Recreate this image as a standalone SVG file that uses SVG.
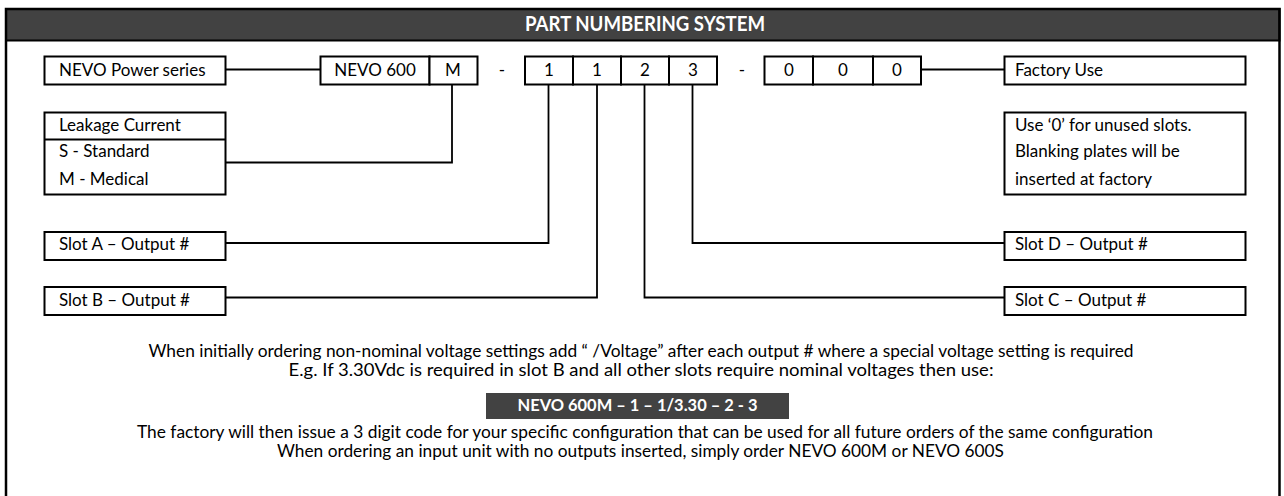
<svg xmlns="http://www.w3.org/2000/svg" width="1284" height="496" viewBox="0 0 1284 496">
<style>
  text { font-family: Lato, "Liberation Sans", sans-serif; font-size: 17px; fill: #000; }
  .c { text-anchor: middle; }
  .b { fill: #fff; stroke: #000; stroke-width: 2; }
  .ln { fill: none; stroke: #000; stroke-width: 1.8; }
  .w { fill: #fff; font-weight: bold; }
  .dark { fill: #424242; }
  .title { font-size: 20px; }
</style>
<rect width="1284" height="496" fill="#fff"/>
<g id="frame">
  <rect class="dark" x="6" y="9" width="1273.5" height="31.5" stroke="#000" stroke-width="2"/>
  <path d="M6,500 V9 H1279.5 V500" fill="none" stroke="#000" stroke-width="2.5"/>
  <text class="c w title" x="645" y="31" textLength="240" lengthAdjust="spacingAndGlyphs">PART NUMBERING SYSTEM</text>
</g>
<g id="connectors">
  <path class="ln" d="M225,69.5 H320"/>
  <path class="ln" d="M225,162.5 H452 V84"/>
  <path class="ln" d="M225,243 H548.5 V84"/>
  <path class="ln" d="M225,297.5 H597 V84"/>
  <path class="ln" d="M1004,297.5 H644.5 V84"/>
  <path class="ln" d="M1004,243 H692.5 V84"/>
  <path class="ln" d="M921,69.5 H1004"/>
</g>
<g id="nevo-power-series">
  <rect class="b" x="44.5" y="56.5" width="181" height="28"/>
  <text x="59" y="76">NEVO Power series</text>
</g>
<g id="part-code">
  <rect class="b" x="320.5" y="56.5" width="109" height="28"/>
  <text class="c" x="375" y="76">NEVO 600</text>
  <rect class="b" x="429.5" y="56.5" width="48" height="28"/>
  <text class="c" x="453" y="76">M</text>
  <text class="c" x="502" y="76">-</text>
  <rect class="b" x="525" y="56.5" width="48" height="28"/>
  <text class="c" x="549" y="76">1</text>
  <rect class="b" x="573" y="56.5" width="48" height="28"/>
  <text class="c" x="597" y="76">1</text>
  <rect class="b" x="621" y="56.5" width="48" height="28"/>
  <text class="c" x="645" y="76">2</text>
  <rect class="b" x="669" y="56.5" width="48" height="28"/>
  <text class="c" x="693" y="76">3</text>
  <text class="c" x="742" y="76">-</text>
  <rect class="b" x="764.5" y="56.5" width="48.5" height="28"/>
  <text class="c" x="789" y="76">0</text>
  <rect class="b" x="813" y="56.5" width="60" height="28"/>
  <text class="c" x="843" y="76">0</text>
  <rect class="b" x="873" y="56.5" width="48" height="28"/>
  <text class="c" x="897" y="76">0</text>
</g>
<g id="factory-use">
  <rect class="b" x="1004.5" y="56.5" width="241" height="28"/>
  <text x="1015" y="76">Factory Use</text>
</g>
<g id="leakage-current">
  <rect class="b" x="44.5" y="112.5" width="181" height="82"/>
  <path class="ln" d="M44.5,139.5 H225.5" stroke-width="2"/>
  <text x="59" y="131">Leakage Current</text>
  <text x="59" y="157">S - Standard</text>
  <text x="59" y="185">M - Medical</text>
</g>
<g id="unused-slots-note">
  <rect class="b" x="1004.5" y="112.5" width="241" height="82"/>
  <text x="1015" y="131">Use ‘0’ for unused slots.</text>
  <text x="1015" y="157">Blanking plates will be</text>
  <text x="1015" y="185">inserted at factory</text>
</g>
<g id="slot-a">
  <rect class="b" x="44.5" y="232" width="181" height="28"/>
  <text x="59" y="250">Slot A – Output #</text>
</g>
<g id="slot-b">
  <rect class="b" x="44.5" y="287" width="181" height="28"/>
  <text x="59" y="306">Slot B – Output #</text>
</g>
<g id="slot-d">
  <rect class="b" x="1004.5" y="232" width="241" height="28"/>
  <text x="1015" y="250">Slot D – Output #</text>
</g>
<g id="slot-c">
  <rect class="b" x="1004.5" y="287" width="241" height="28"/>
  <text x="1015" y="306">Slot C – Output #</text>
</g>
<g id="notes">
  <text class="c" x="641" y="357" textLength="985" lengthAdjust="spacingAndGlyphs">When initially ordering non-nominal voltage settings add “ /Voltage” after each output # where a special voltage setting is required</text>
  <text class="c" x="641" y="376" textLength="705" lengthAdjust="spacingAndGlyphs">E.g. If 3.30Vdc is required in slot B and all other slots require nominal voltages then use:</text>
  <rect class="dark" x="486" y="393" width="303" height="26"/>
  <text class="c w" x="637.5" y="411" textLength="240" lengthAdjust="spacingAndGlyphs">NEVO 600M – 1 – 1/3.30 – 2 - 3</text>
  <text class="c" x="645" y="438" textLength="1016" lengthAdjust="spacingAndGlyphs">The factory will then issue a 3 digit code for your specific configuration that can be used for all future orders of the same configuration</text>
  <text class="c" x="640.5" y="457" textLength="727" lengthAdjust="spacingAndGlyphs">When ordering an input unit with no outputs inserted, simply order NEVO 600M or NEVO 600S</text>
</g>
</svg>
